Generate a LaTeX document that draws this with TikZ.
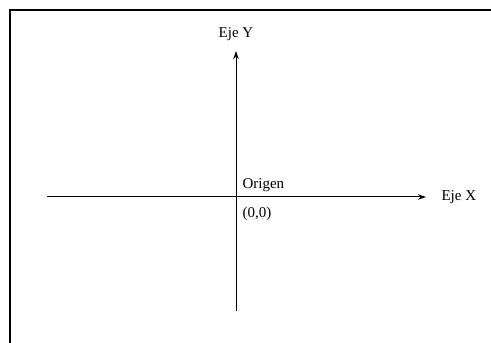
\documentclass[tikz,border=0pt]{standalone}
\usepackage{fontspec}
\setmainfont{Liberation Serif}
\usepackage{tikz}
\usetikzlibrary{positioning,arrows.meta}

\begin{document}
\begin{tikzpicture}[x=1pt,y=1pt,font=\fontsize{15}{18}\selectfont]
\useasboundingbox (0,0) rectangle (491,343);
\clip (0,0) rectangle (491,343);
% frame
\draw[line width=2pt] (10,-20) -- (10,333) -- (520,333);
% axes
\coordinate (O) at (236,146);
\coordinate (Xi) at (47,146);
\coordinate (Xf) at (426,146);
\coordinate (Yi) at (236,32);
\coordinate (Yf) at (236,292);
\draw[line width=1pt,-{Stealth[length=8pt,width=5.5pt]}] (Xi)--(Xf);
\draw[line width=1pt,-{Stealth[length=8pt,width=5.5pt]}] (Yi)--(Yf);
\node[right=12pt] (ejeX) at (Xf) {Eje X};
\node[above=7pt] (ejeY) at (Yf) {Eje Y};
% origin labels
\node[above right=2pt and 3pt] (origen) at (O) {Origen};
\node[below right=7pt and 3pt] (cero) at (O) {(0,0)};
\end{tikzpicture}
\end{document}
